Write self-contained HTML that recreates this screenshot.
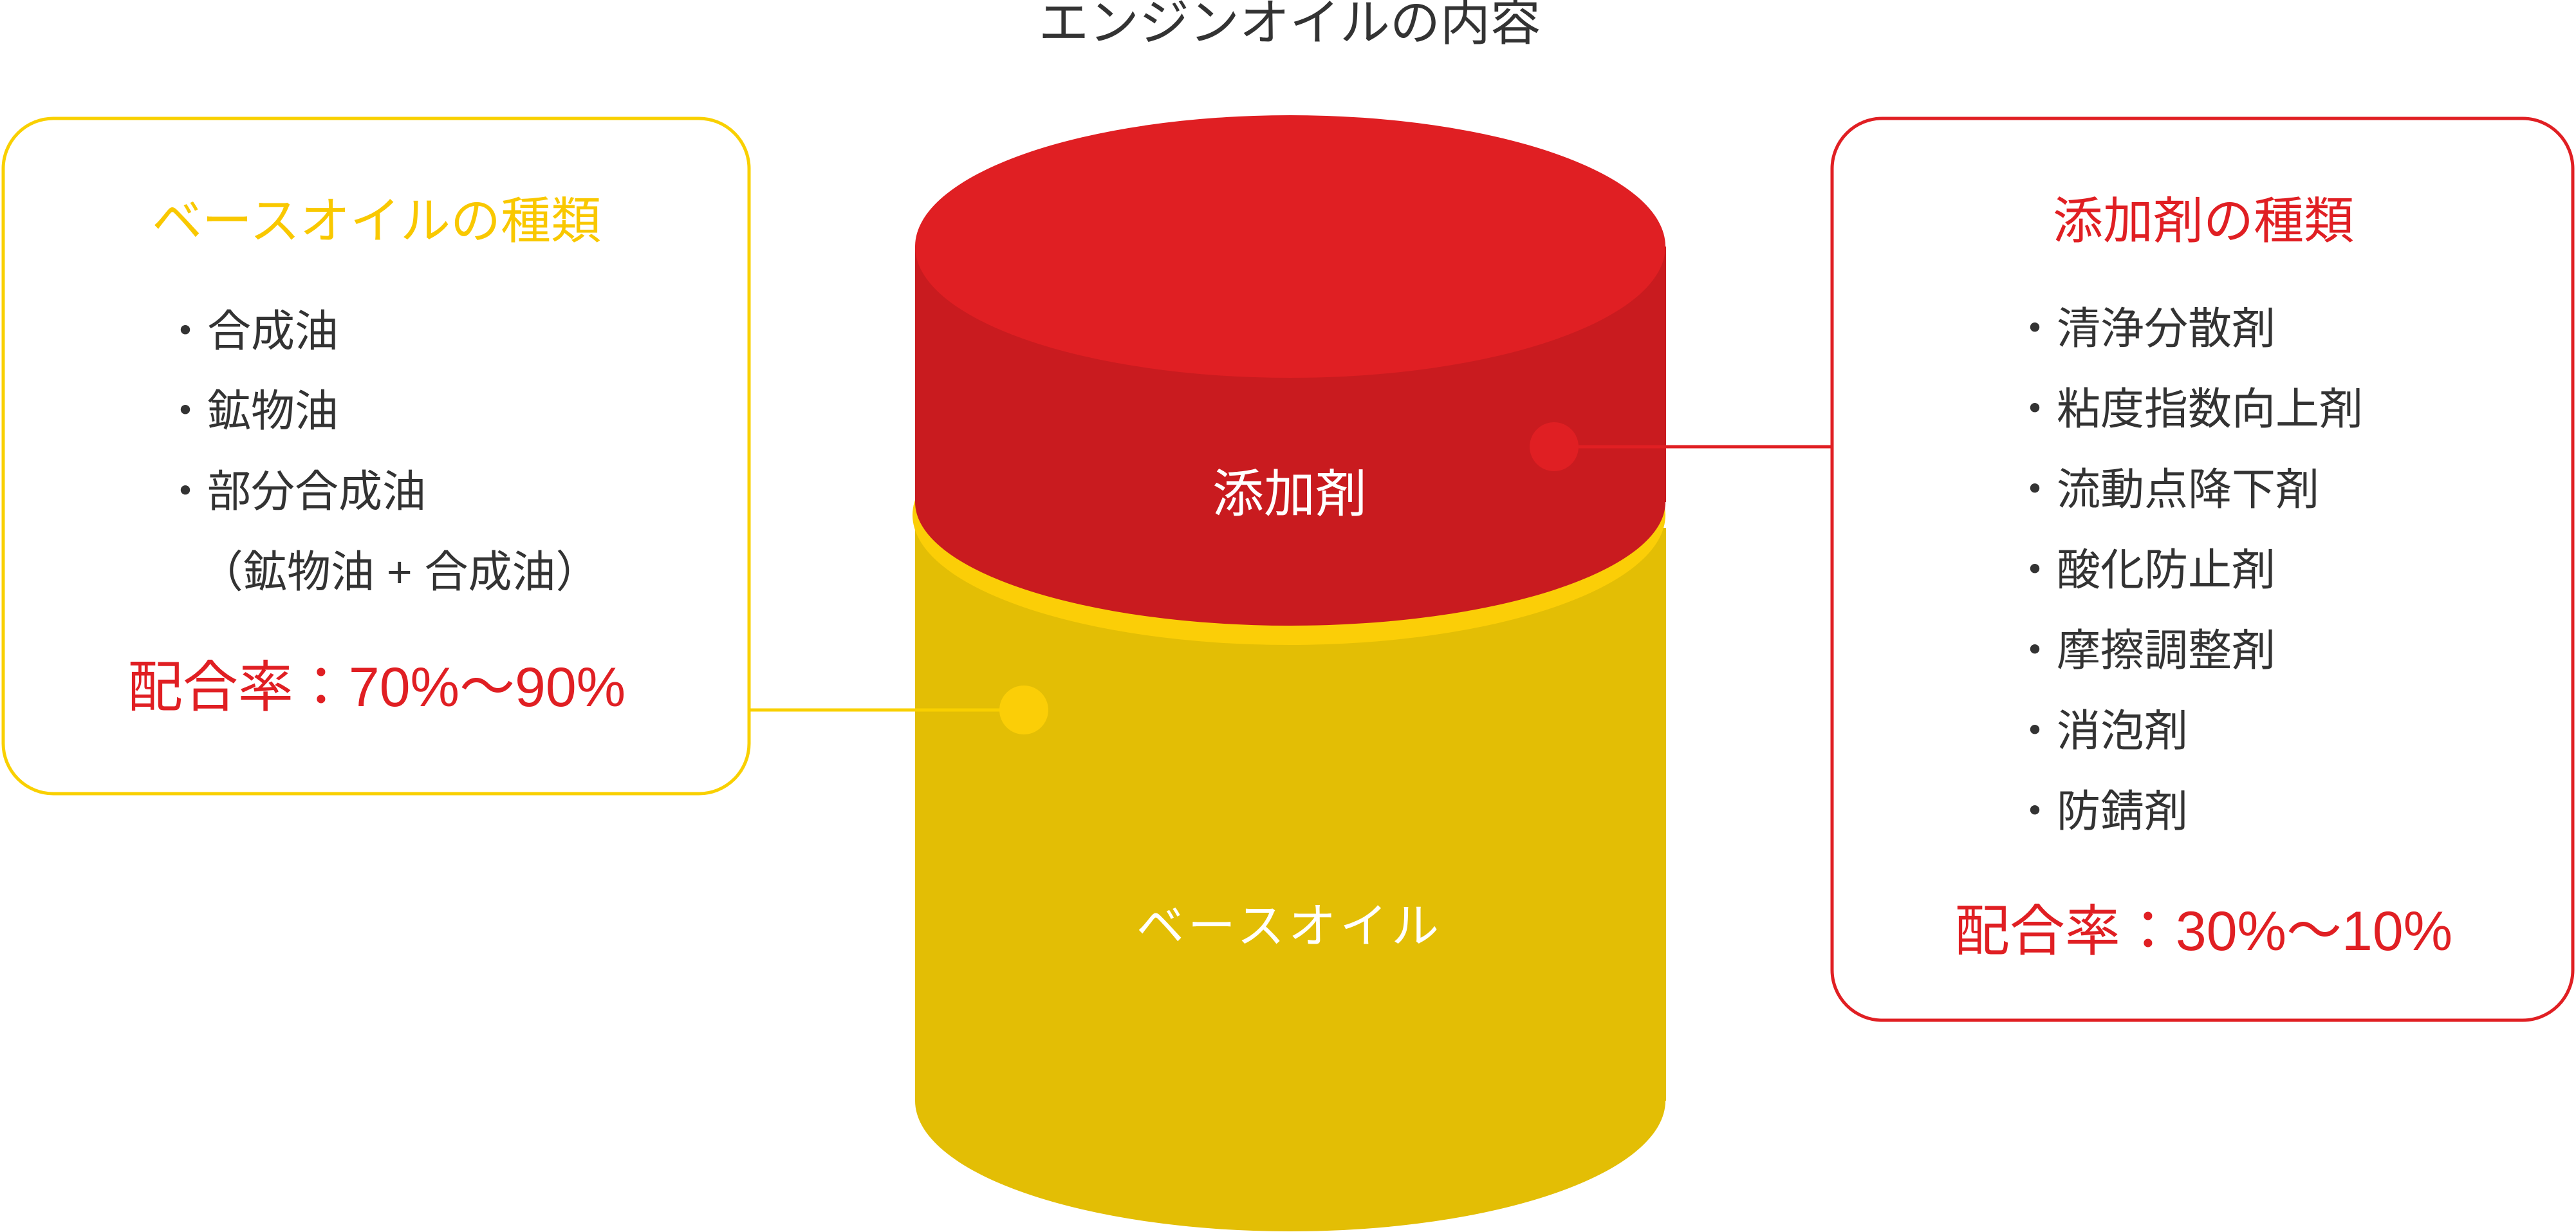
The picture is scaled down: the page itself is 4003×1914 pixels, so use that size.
<!DOCTYPE html>
<html><head><meta charset="utf-8"><style>
html,body{margin:0;padding:0;background:#fff;}
body{width:4003px;height:1914px;overflow:hidden;position:relative;}
svg{position:absolute;left:0;top:0;}
text{font-family:"Liberation Sans","Noto Sans CJK JP",sans-serif;}
</style></head><body>
<svg width="4003" height="1914" viewBox="0 0 4003 1914">
<text x="2004" y="62" font-size="78" fill="#333" text-anchor="middle">エンジンオイルの内容</text>
<!-- left box -->
<rect x="5" y="184" width="1159" height="1049" rx="78" fill="#fff" stroke="#f9d000" stroke-width="5"/>
<!-- right box -->
<rect x="2847" y="184" width="1151" height="1401" rx="78" fill="#fff" stroke="#e01f23" stroke-width="5"/>
<!-- cylinder yellow -->
<ellipse cx="2005" cy="1710" rx="583" ry="203" fill="#e3be05"/>
<rect x="1422" y="820" width="1167" height="890" fill="#e3be05"/>
<ellipse cx="2003" cy="800" rx="585" ry="202" fill="#fbce07"/>
<!-- cylinder red -->
<ellipse cx="2005" cy="780" rx="583" ry="192" fill="#c91b1f"/>
<rect x="1422" y="383" width="1167" height="397" fill="#c91b1f"/>
<ellipse cx="2005" cy="383" rx="583" ry="204" fill="#e01f23"/>
<line x1="1164" y1="1103" x2="1588" y2="1103" stroke="#f9d000" stroke-width="5"/>
<line x1="2415" y1="694" x2="2847" y2="694" stroke="#e01f23" stroke-width="5"/>
<circle cx="2415" cy="694" r="38" fill="#e01f23"/>
<circle cx="1591" cy="1103" r="38" fill="#fbce07"/>
<text x="2004" y="795" font-size="80" fill="#fff" text-anchor="middle">添加剤</text>
<text x="2004" y="1464" font-size="74" fill="#fff" text-anchor="middle" letter-spacing="6">ベースオイル</text>
<!-- left text -->
<text x="585" y="370" font-size="78" fill="#f9c800" text-anchor="middle">ベースオイルの種類</text>
<g font-size="68" fill="#333">
<text x="254" y="538">・合成油</text>
<text x="254" y="662">・鉱物油</text>
<text x="254" y="787">・部分合成油</text>
<text x="310" y="912">（鉱物油 + 合成油）</text>
</g>
<text x="585" y="1097" font-size="86" fill="#e01f23" text-anchor="middle">配合率：70%～90%</text>
<!-- right text -->
<text x="3424" y="370" font-size="78" fill="#e01f23" text-anchor="middle">添加剤の種類</text>
<g font-size="68" fill="#333">
<text x="3128" y="534">・清浄分散剤</text>
<text x="3128" y="659">・粘度指数向上剤</text>
<text x="3128" y="784">・流動点降下剤</text>
<text x="3128" y="909">・酸化防止剤</text>
<text x="3128" y="1034">・摩擦調整剤</text>
<text x="3128" y="1159">・消泡剤</text>
<text x="3128" y="1284">・防錆剤</text>
</g>
<text x="3424" y="1476" font-size="86" fill="#e01f23" text-anchor="middle">配合率：30%～10%</text>
</svg>
</body></html>
